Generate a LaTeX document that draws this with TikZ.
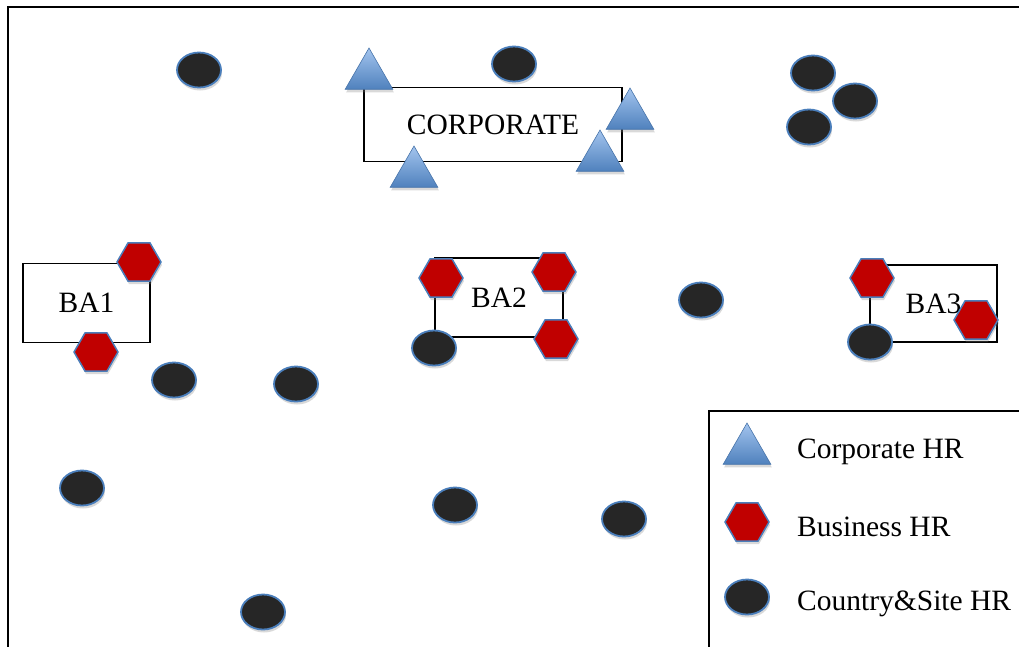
\documentclass[tikz,border=0pt]{standalone}
\usepackage{fontspec}
\setmainfont{Liberation Serif}
\usetikzlibrary{shapes.geometric,shadows}
\definecolor{hrblue}{HTML}{4A7EBB}
\definecolor{sitegray}{HTML}{262626}
\definecolor{bizred}{HTML}{C00000}
\definecolor{corpblue}{HTML}{4F81BD}
\definecolor{corplight}{HTML}{A3C4EE}
\tikzset{
  soft/.style={drop shadow={opacity=0.3,shadow xshift=1pt,shadow yshift=-3pt}},
  site/.style={ellipse,draw=hrblue,line width=1.8pt,fill=sitegray,minimum width=44pt,minimum height=35pt,inner sep=0pt,soft},
  biz/.style={regular polygon,regular polygon sides=6,draw=hrblue,line width=1.5pt,fill=bizred,minimum size=44pt,inner sep=0pt,soft},
  corp/.style={regular polygon,regular polygon sides=3,draw=corpblue!90!black,line width=0.6pt,top color=corplight,bottom color=corpblue,minimum size=55pt,inner sep=0pt,soft},
  unit/.style={draw,line width=1.5pt,inner sep=0pt,font=\fontsize{29.5}{33}\selectfont},
  key/.style={anchor=west,inner sep=0pt,font=\fontsize{29.5}{33}\selectfont}
}

\begin{document}
\begin{tikzpicture}[x=1pt,y=-1pt]
\useasboundingbox (0,0) rectangle (1019,646);
\clip (0,0) rectangle (1019,646);
% Outer frame and legend box
\draw[line width=2pt] (8,660) coordinate (fl) -- (8,7) coordinate (ftl) -- (1030,7) coordinate (fr);
\draw[line width=1.5pt] (709,660) coordinate (kl) -- (709,411) coordinate (ktl) -- (1030,411) coordinate (kr);
% Units
\node[unit,minimum width=258pt,minimum height=74pt,text depth=-2pt] (corporate) at (493,124.5) {CORPORATE};
\node[unit,minimum width=127pt,minimum height=79pt] (ba1) at (86.5,303) {BA1};
\node[unit,minimum width=128pt,minimum height=79pt] (ba2) at (499,297.5) {BA2};
\node[unit,minimum width=127pt,minimum height=77pt] (ba3) at (933.5,303.5) {BA3};
% Corporate HR
\node[corp] (c1) at (369,75.5) {};
\node[corp] (c2) at (630,115.5) {};
\node[corp] (c3) at (414,173.5) {};
\node[corp] (c4) at (600,157.5) {};
% Business HR
\node[biz] (b1) at (139,262) {};
\node[biz] (b2) at (96,352) {};
\node[biz] (b3) at (441,278) {};
\node[biz] (b4) at (554,272) {};
\node[biz] (b5) at (556,339) {};
\node[biz] (b6) at (872,278) {};
\node[biz] (b7) at (976,320) {};
% Country & site HR
\node[site] (s1) at (199,70) {};
\node[site] (s2) at (514,64) {};
\node[site] (s3) at (813,73) {};
\node[site] (s4) at (855,101) {};
\node[site] (s5) at (809,127) {};
\node[site] (s6) at (701,300) {};
\node[site] (s7) at (434,348) {};
\node[site] (s8) at (870,342) {};
\node[site] (s9) at (174,380) {};
\node[site] (s10) at (296,384) {};
\node[site] (s11) at (82,488) {};
\node[site] (s12) at (455,505) {};
\node[site] (s13) at (624,519) {};
\node[site] (s14) at (263,612) {};
% Legend
\node[corp] (kc) at (747,450.5) {};
\node[biz] (kb) at (747,522) {};
\node[site] (ks) at (747,597) {};
\node[key] (kct) at (797,452) {Corporate HR};
\node[key] (kbt) at (797,527) {Business HR};
\node[key] (kst) at (797,604) {Country\&Site HR};
\end{tikzpicture}
\end{document}
